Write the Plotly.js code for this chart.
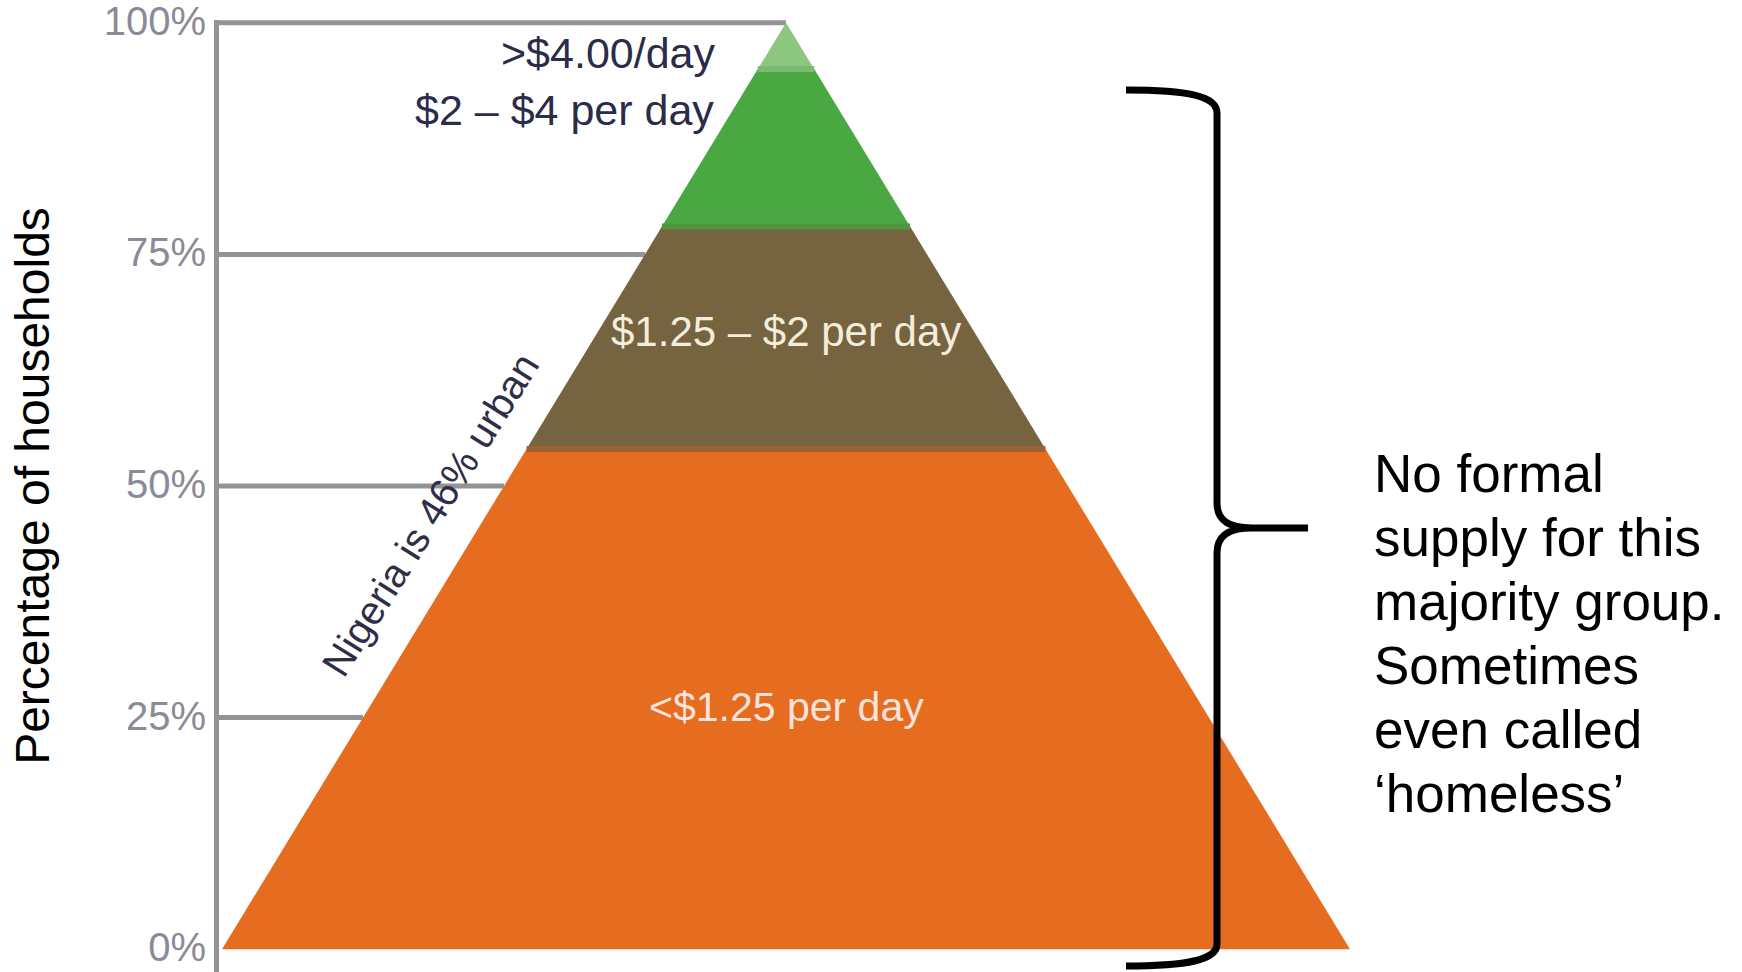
<!DOCTYPE html>
<html><head><meta charset="utf-8">
<script src="https://cdn.plot.ly/plotly-3.0.1.min.js"></script>
<style>html,body{margin:0;padding:0;background:#fff;overflow:hidden}#chart{width:1742px;height:972px}</style>
</head><body><div id="chart"></div>
<script>
// ---------------- data ----------------
const bandLabels = ['<$1.25 per day', '$1.25 – $2 per day', '$2 – $4 per day', '>$4.00/day'];
const bandShares = [54, 24, 17, 5];            // % of households in each income band (bottom to top)
const tickValues = [0, 25, 50, 75, 100];
const tickLabels = ['0%', '25%', '50%', '75%', '100%'];
const yAxisTitle = 'Percentage of households';
const urbanNote = 'Nigeria is 46% urban';
const calloutLines = ['No formal', 'supply for this', 'majority group.', 'Sometimes', 'even called', '‘homeless’'];

// ---------------- styles ----------------
const bandColors = ['#e66c20', '#766340', '#4aa843', '#8dc67f'];
const seamColors = ['#9c6234', '#519540', '#7db96f'];   // thin edge between adjacent bands
const gridColor = '#939396';
const SANS = 'Liberation Sans, Arial, Helvetica, sans-serif';

// ---------------- geometry helpers (layout only) ----------------
const W = 1742, H = 972;
const M = {l: 219, r: 0, t: 20, b: 20};
const plotW = W - M.l - M.r, plotH = H - M.t - M.b;
const yR = [-0.3, 100.3];
const cx = 786, pxPerUnit = 564;
const xR = [(M.l - cx) / pxPerUnit, (W - M.r - cx) / pxPerUnit];
const px2x = X => (X - cx) / pxPerUnit;
const py2y = Y => yR[1] - (Y - M.t) * (yR[1] - yR[0]) / plotH;
const px2pX = X => (X - M.l) / plotW;
const py2pY = Y => 1 - (Y - M.t) / plotH;

const halfBase = 1;
const hw = v => halfBase * (1 - v / 100);

// cumulative band bounds
const bounds = [0];
bandShares.forEach(s => bounds.push(bounds[bounds.length - 1] + s));

const esc = s => s.replace(/&/g, '&amp;').replace(/</g, '&lt;').replace(/>/g, '&gt;');

const traces = bandShares.map((s, i) => {
  const lo = bounds[i], hi = bounds[i + 1];
  return {
    type: 'scatter', mode: 'lines', fill: 'toself',
    x: [-hw(lo), hw(lo), hw(hi), -hw(hi), -hw(lo)],
    y: [lo, lo, hi, hi, lo],
    fillcolor: bandColors[i], line: {width: 0, color: bandColors[i]},
    name: bandLabels[i], hoverinfo: 'name', showlegend: false
  };
});

// gridlines stop at the pyramid's left edge
const shapes = tickValues.filter(v => v > 0).map(v => ({
  type: 'line', xref: 'x', yref: 'y', layer: 'below',
  x0: xR[0], x1: -hw(v), y0: v, y1: v,
  line: {color: gridColor, width: 5}
}));

// seams between bands
bounds.slice(1, -1).forEach((b, i) => shapes.push({
  type: 'line', xref: 'x', yref: 'y', layer: 'above',
  x0: -hw(b), x1: hw(b), y0: b, y1: b,
  line: {color: seamColors[i], width: 6}
}));

// axis line continues to the bottom edge of the picture
shapes.push({type: 'line', xref: 'paper', yref: 'paper', layer: 'below',
  x0: px2pX(M.l - 2.5), x1: px2pX(M.l - 2.5), y0: 0, y1: py2pY(H),
  line: {color: gridColor, width: 5}});

// curly brace (pixel layout -> paper coords)
const P = (X, Y) => px2pX(X).toFixed(5) + ',' + py2pY(Y).toFixed(5);
const bracePath =
  'M' + P(1126, 90) + ' C' + P(1188, 90) + ' ' + P(1217, 96) + ' ' + P(1217, 113) +
  ' L' + P(1217, 503) + ' C' + P(1217, 520) + ' ' + P(1228, 528) + ' ' + P(1252, 528) +
  ' L' + P(1308, 528) +
  ' M' + P(1252, 528) + ' C' + P(1228, 528) + ' ' + P(1217, 536) + ' ' + P(1217, 553) +
  ' L' + P(1217, 944) + ' C' + P(1217, 960) + ' ' + P(1188, 966) + ' ' + P(1126, 966);
shapes.push({type: 'path', xref: 'paper', yref: 'paper', path: bracePath,
  line: {color: '#000', width: 7}});

const annotations = [
  {x: px2x(717), y: py2y(53), xanchor: 'right', text: esc(bandLabels[3]),
   font: {family: SANS, size: 43, color: '#2b2b4a'}},
  {x: px2x(716), y: py2y(110), xanchor: 'right', text: esc(bandLabels[2]),
   font: {family: SANS, size: 43, color: '#2b2b4a'}},
  {x: 0, y: py2y(331), xanchor: 'center', text: esc(bandLabels[1]),
   font: {family: SANS, size: 42, color: '#f3eedc'}},
  {x: 0, y: py2y(707), xanchor: 'center', text: esc(bandLabels[0]),
   font: {family: SANS, size: 41, color: '#fbe2dc'}},
  {x: px2x(430), y: py2y(515), xanchor: 'center', textangle: -58, text: esc(urbanNote),
   font: {family: SANS, size: 40, color: '#2e2e48'}}
].map(a => Object.assign({xref: 'x', yref: 'y', yanchor: 'middle', showarrow: false}, a));

calloutLines.forEach((t, i) => annotations.push({
  xref: 'paper', yref: 'paper', x: px2pX(1372), y: py2pY(474 + i * 63.8),
  xanchor: 'left', yanchor: 'middle', showarrow: false, text: esc(t),
  font: {family: SANS, size: 53, color: '#000'}
}));

const layout = {
  width: W, height: H, margin: M,
  paper_bgcolor: '#fff', plot_bgcolor: '#fff',
  showlegend: false,
  xaxis: {range: xR, visible: false, fixedrange: true},
  yaxis: {
    range: yR, showgrid: false, zeroline: false,
    showline: true, linecolor: gridColor, linewidth: 5,
    ticks: '', tickvals: tickValues, ticktext: tickLabels,
    ticklabelshift: -2, ticklabelstandoff: 0, ticklabeloverflow: 'allow',
    tickfont: {family: SANS, size: 40, color: '#8a8a98'},
    title: {text: yAxisTitle, standoff: 40, font: {family: SANS, size: 48, color: '#000'}},
    fixedrange: true
  },
  shapes: shapes,
  annotations: annotations
};

Plotly.newPlot('chart', traces, layout, {displayModeBar: false, staticPlot: true});
</script>
</body></html>
